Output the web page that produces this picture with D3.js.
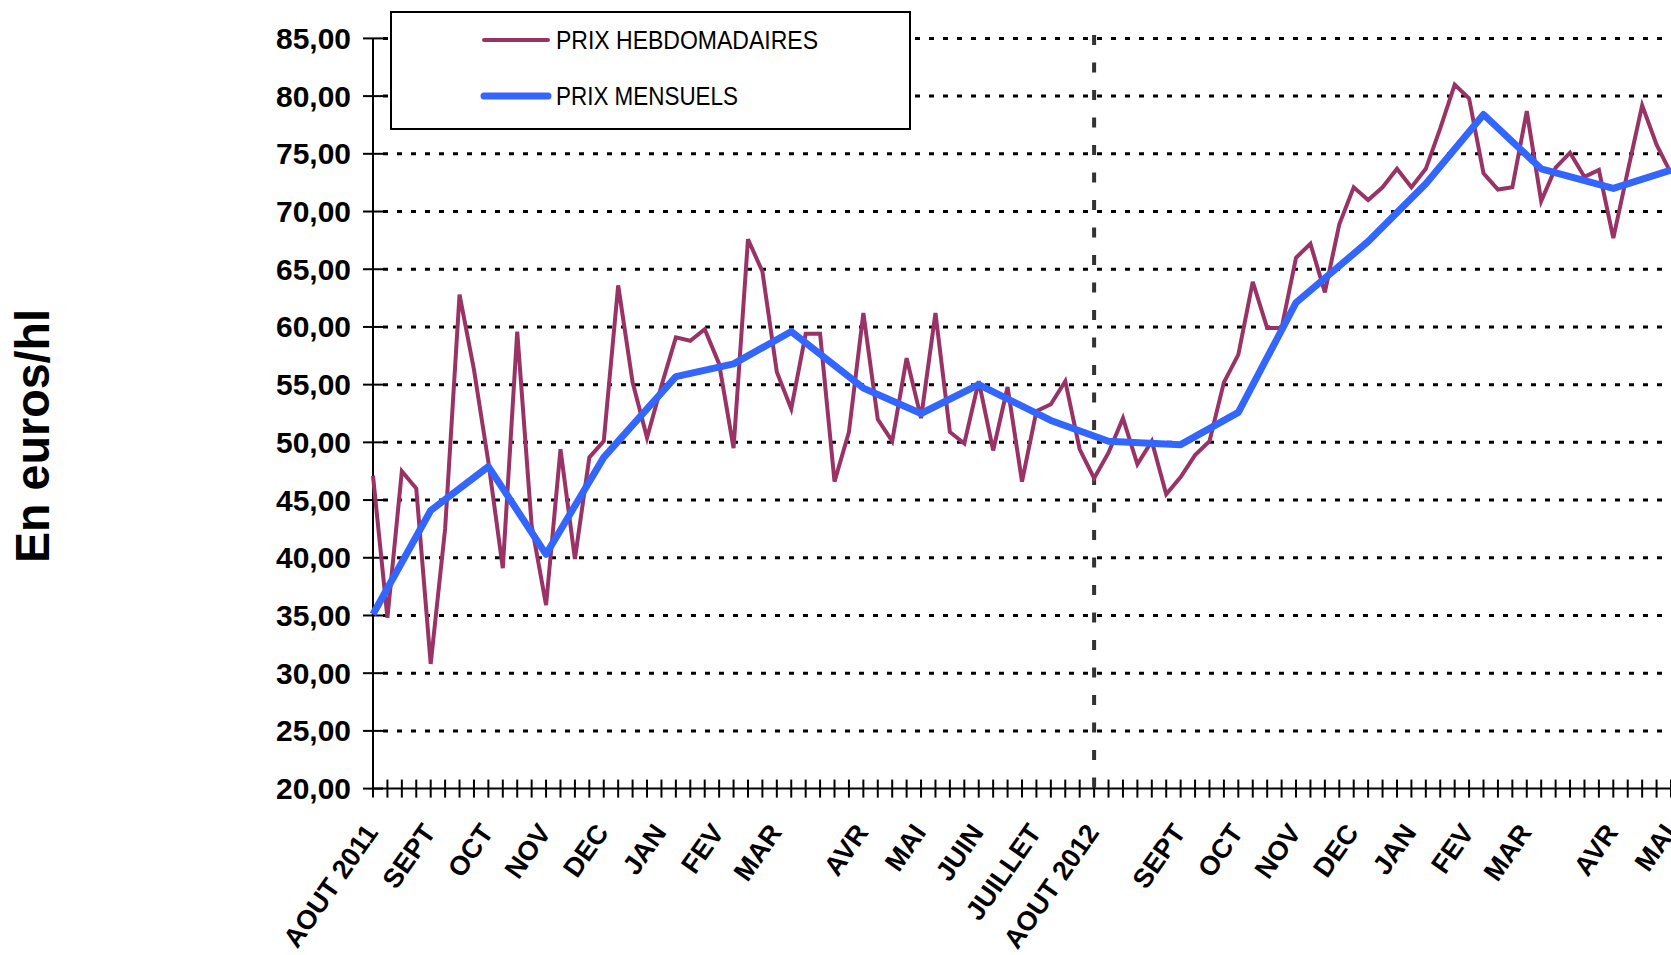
<!DOCTYPE html>
<html>
<head>
<meta charset="utf-8">
<script src="https://cdn.jsdelivr.net/npm/d3@7"></script>
<style>
  body { margin: 0; background: #fff; }
  svg { display: block; }
  text { font-family: "Liberation Sans", Arial, sans-serif; }
</style>
</head>
<body>
<div id="chart"></div>
<script>
// weekly prices, one per week, starting AOUT 2011
var weeklyPrices = [
  47.1, 34.8, 47.5, 46.0, 30.8, 42.5, 62.8, 56.3, 48.3, 39.1,
  59.6, 42.8, 35.9, 49.4, 39.9, 48.7, 50.1, 63.6, 55.2, 50.4,
  54.9, 59.1, 58.8, 59.8, 56.8, 49.5, 67.6, 64.8, 56.1, 52.9,
  59.4, 59.4, 46.6, 50.9, 61.2, 52.0, 50.1, 57.3, 52.1, 61.2,
  50.9, 49.9, 55.3, 49.3, 54.8, 46.6, 52.7, 53.3, 55.3, 49.4,
  46.9, 49.1, 52.1, 48.1, 50.1, 45.5, 47.0, 48.9, 50.1, 55.2,
  57.6, 63.9, 59.9, 59.9, 66.0, 67.2, 63.0, 68.9, 72.1, 71.0,
  72.1, 73.7, 72.1, 73.7, 77.2, 81.0, 79.8, 73.3, 71.9, 72.1,
  78.7, 70.9, 73.8, 75.1, 73.0, 73.6, 67.7, 73.5, 79.2, 75.8,
  73.3
];

// monthly prices, placed on the week they belong to
var monthlyWeeks = [0, 4, 8, 12, 16, 21, 25, 29, 34, 38, 42, 47, 51, 56, 60, 64, 69, 73, 77, 81, 86, 90];
var monthlyPrices = [35.1, 44.1, 47.9, 40.3, 48.7, 55.7, 56.8, 59.6, 54.7, 52.5, 55.0,
                     51.9, 50.1, 49.8, 52.6, 62.1, 67.4, 72.4, 78.4, 73.7, 72.0, 73.6];

// category labels shown on the x axis
var labelWeeks = [0, 4, 8, 12, 16, 20, 24, 28, 34, 38, 42, 46, 50, 56, 60, 64, 68, 72, 76, 80, 86, 90];
var labelNames = ["AOUT 2011", "SEPT", "OCT", "NOV", "DEC", "JAN", "FEV", "MAR", "AVR", "MAI", "JUIN",
                  "JUILLET", "AOUT 2012", "SEPT", "OCT", "NOV", "DEC", "JAN", "FEV", "MAR", "AVR", "MAI"];

var yTicks = [20, 25, 30, 35, 40, 45, 50, 55, 60, 65, 70, 75, 80, 85];
var markerWeek = 50;

var seriesNames = ["PRIX HEBDOMADAIRES", "PRIX MENSUELS"];
var seriesColors = ["#993366", "#3366ff"];

var width = 1671, height = 955;

var svg = d3.select("#chart").append("svg")
    .attr("width", width)
    .attr("height", height);

svg.append("rect").attr("width", width).attr("height", height).attr("fill", "#fff");

var x = d3.scaleLinear().domain([0, weeklyPrices.length - 1]).range([373, 1671]);
var y = d3.scaleLinear().domain([20, 85]).range([788.6, 38.4]);

var frFormat = d3.formatLocale({decimal: ",", thousands: " ", grouping: [3], currency: ["", "€"]}).format(".2f");

// dotted gridlines
svg.append("g").selectAll("line")
    .data(yTicks.filter(function (d) { return d > 20; }))
    .enter().append("line")
    .attr("x1", 383).attr("x2", width)
    .attr("y1", function (d) { return y(d); })
    .attr("y2", function (d) { return y(d); })
    .attr("stroke", "#000")
    .attr("stroke-width", 3)
    .attr("stroke-dasharray", "5,9");

// y axis
var yAxis = svg.append("g");
yAxis.append("line")
    .attr("x1", x(0)).attr("x2", x(0))
    .attr("y1", y(85)).attr("y2", y(20))
    .attr("stroke", "#000").attr("stroke-width", 2);
yAxis.selectAll(".ytick")
    .data(yTicks)
    .enter().append("line")
    .attr("class", "ytick")
    .attr("x1", x(0) - 10).attr("x2", x(0) + 10)
    .attr("y1", function (d) { return y(d); })
    .attr("y2", function (d) { return y(d); })
    .attr("stroke", "#000").attr("stroke-width", 2);
yAxis.selectAll(".ylabel")
    .data(yTicks)
    .enter().append("text")
    .attr("class", "ylabel")
    .attr("x", 351)
    .attr("y", function (d) { return y(d); })
    .attr("dy", "0.36em")
    .attr("text-anchor", "end")
    .attr("font-size", 29)
    .attr("font-weight", "bold")
    .attr("textLength", 75)
    .attr("lengthAdjust", "spacingAndGlyphs")
    .text(function (d) { return frFormat(d); });

// x axis
var xAxis = svg.append("g");
xAxis.append("line")
    .attr("x1", x(0)).attr("x2", width)
    .attr("y1", y(20)).attr("y2", y(20))
    .attr("stroke", "#000").attr("stroke-width", 2);
xAxis.selectAll(".xtick")
    .data(d3.range(weeklyPrices.length))
    .enter().append("line")
    .attr("class", "xtick")
    .attr("x1", function (d) { return x(d); })
    .attr("x2", function (d) { return x(d); })
    .attr("y1", y(20) - 9).attr("y2", y(20) + 9)
    .attr("stroke", "#000").attr("stroke-width", 2);
xAxis.selectAll(".xlabel")
    .data(labelWeeks)
    .enter().append("text")
    .attr("class", "xlabel")
    .attr("transform", function (d) { return "translate(" + (x(d) + 6) + "," + (y(20) + 44) + ") rotate(-55)"; })
    .attr("text-anchor", "end")
    .attr("font-size", 27)
    .attr("font-weight", "bold")
    .text(function (d, i) { return labelNames[i]; });

// year separator
svg.append("line")
    .attr("x1", x(markerWeek)).attr("x2", x(markerWeek))
    .attr("y1", 35).attr("y2", y(20) + 9)
    .attr("stroke", "#333")
    .attr("stroke-width", 4)
    .attr("stroke-dasharray", "10,17.5");

// series
var line = d3.line()
    .x(function (d) { return x(d[0]); })
    .y(function (d) { return y(d[1]); });

svg.append("path")
    .datum(weeklyPrices.map(function (v, i) { return [i, v]; }))
    .attr("d", line)
    .attr("fill", "none")
    .attr("stroke", seriesColors[0])
    .attr("stroke-width", 4);

svg.append("path")
    .datum(monthlyPrices.map(function (v, i) { return [monthlyWeeks[i], v]; }))
    .attr("d", line)
    .attr("fill", "none")
    .attr("stroke", seriesColors[1])
    .attr("stroke-width", 7)
    .attr("stroke-linejoin", "round");

// legend
var legend = svg.append("g");
legend.append("rect")
    .attr("x", 391).attr("y", 12)
    .attr("width", 519).attr("height", 117)
    .attr("fill", "#fff")
    .attr("stroke", "#000").attr("stroke-width", 2);
var legendRows = [40, 96];
var legendWidths = [262, 182];
seriesNames.forEach(function (name, i) {
    legend.append("line")
        .attr("x1", 484).attr("x2", 548)
        .attr("y1", legendRows[i]).attr("y2", legendRows[i])
        .attr("stroke", seriesColors[i])
        .attr("stroke-width", i == 0 ? 4 : 7)
        .attr("stroke-linecap", "round");
    legend.append("text")
        .attr("x", 556).attr("y", legendRows[i])
        .attr("dy", "0.36em")
        .attr("font-size", 25)
        .attr("textLength", legendWidths[i])
        .attr("lengthAdjust", "spacingAndGlyphs")
        .text(name);
});

// y axis title
svg.append("text")
    .attr("transform", "translate(49,436) rotate(-90)")
    .attr("text-anchor", "middle")
    .attr("font-size", 48)
    .attr("font-weight", "bold")
    .attr("textLength", 254)
    .attr("lengthAdjust", "spacingAndGlyphs")
    .text("En euros/hl");
</script>
</body>
</html>
